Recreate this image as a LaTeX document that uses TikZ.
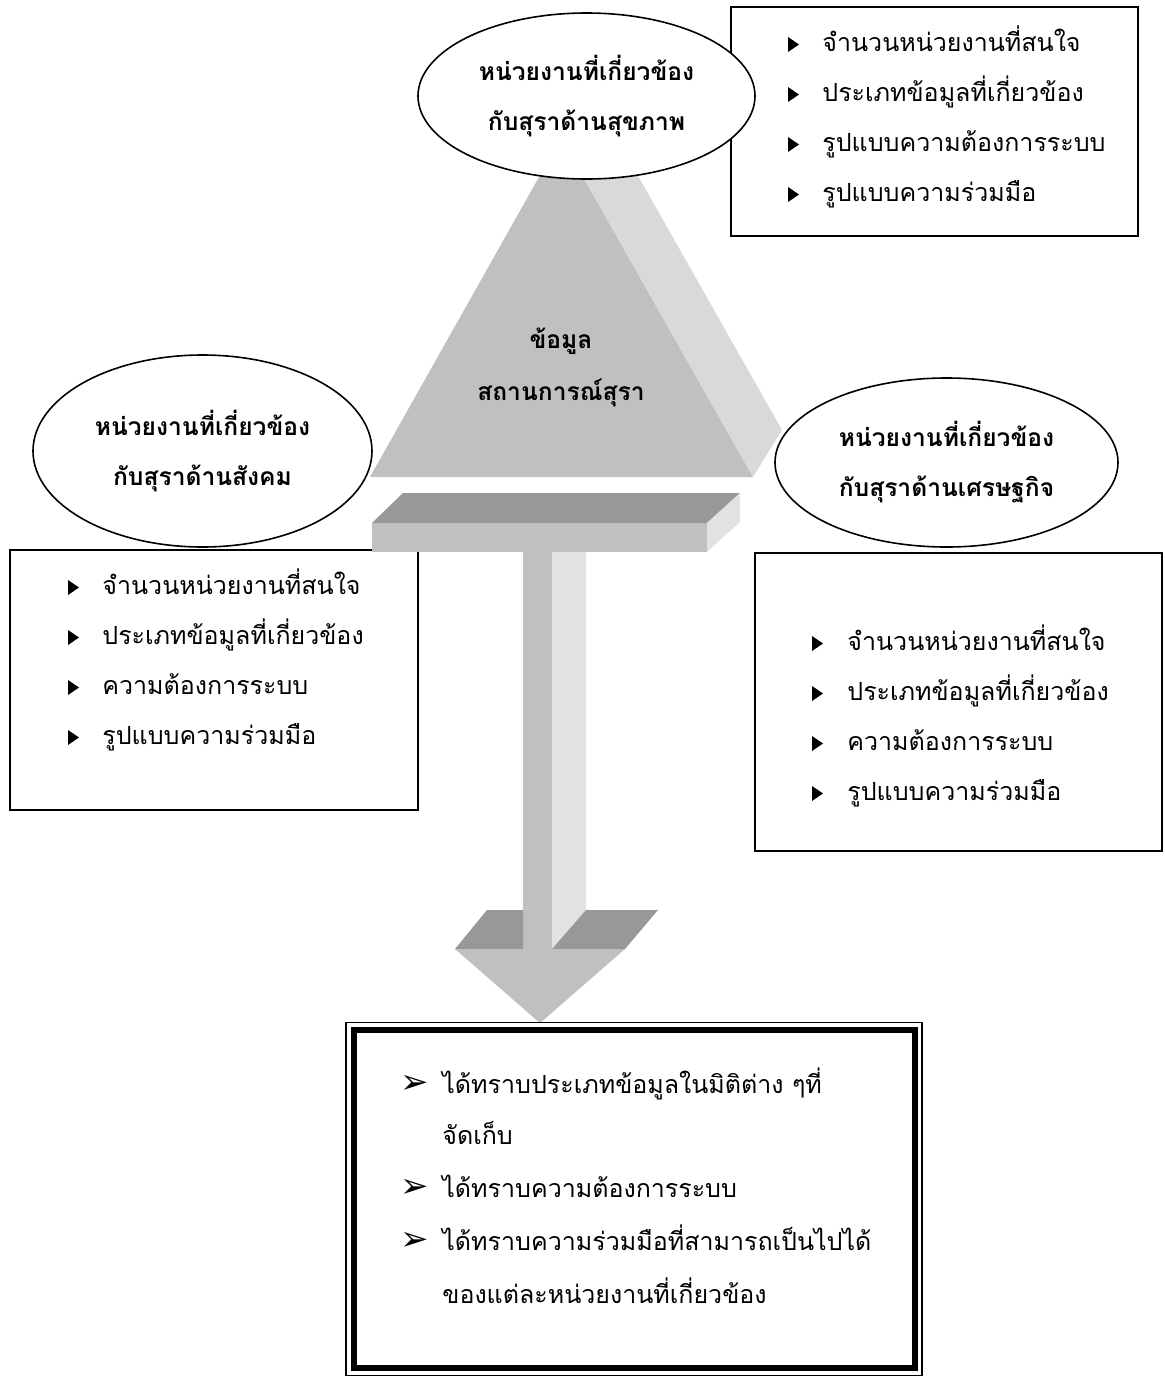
\documentclass[tikz,border=0pt]{standalone}
\usepackage{fontspec}
\newfontfamily\thaifont[Script=Thai]{Loma}
\newfontfamily\symfont{DejaVu Sans}
\usetikzlibrary{shapes.geometric}
\definecolor{facegray}{HTML}{C0C0C0}
\definecolor{sidegray}{HTML}{D9D9D9}
\definecolor{topgray}{HTML}{989898}
\definecolor{lightgray}{HTML}{E2E2E2}

\begin{document}
\begin{tikzpicture}[x=0.5pt,y=-0.5pt,
  every node/.style={inner sep=0pt,font=\thaifont\fontsize{12.5}{15}\selectfont},
  agency/.style={ellipse,draw,fill=white,line width=0.8pt,align=center,
    font=\thaifont\bfseries\fontsize{12.3}{25}\selectfont},
  listbox/.style={draw,line width=0.8pt},
  item/.style={anchor=base west},
  arrowmark/.style={anchor=base west,font=\symfont\fontsize{17}{17}\selectfont}]
\useasboundingbox (0,0) rectangle (1165,1377);
% Triangle of data, front and side
\fill[facegray] (370,477) -- (753,477) -- (561,138) -- cycle;
\fill[sidegray] (561,138) -- (590,91) -- (782,430) -- (753,477) -- cycle;
\node[font=\thaifont\bfseries\fontsize{12.3}{26}\selectfont,align=center] (datalabel) at (561,367) {ข้อมูล\\สถานการณ์สุรา};
% Boxes of points
\node[listbox,minimum width=203.5pt,minimum height=114.5pt] (healthbox) at (934.5,121.5) {};
\node[listbox,minimum width=204pt,minimum height=130pt] (socialbox) at (214,680) {};
\node[listbox,minimum width=203.5pt,minimum height=149pt] (economybox) at (958.5,702) {};
% T bar below the triangle
\fill[topgray] (372,523) -- (403,493) -- (740,493) -- (707,523) -- cycle;
\fill[facegray] (372,523) rectangle (707,552);
\fill[lightgray] (707,523) -- (740,493) -- (740,522) -- (707,552) -- cycle;
% Shaft
\fill[facegray] (523,552) rectangle (552,949);
\fill[lightgray] (552,552) -- (586,552) -- (586,910) -- (552,949) -- cycle;
% Arrow head
\fill[topgray] (455,949) -- (487,910) -- (523,910) -- (523,949) -- cycle;
\fill[topgray] (552,949) -- (586,910) -- (658,910) -- (625,949) -- cycle;
\fill[facegray] (455,949) -- (625,949) -- (540,1023) -- cycle;
% Agencies
\node[agency,minimum width=168.5pt,minimum height=83pt] (health) at (586.5,96) {หน่วยงานที่เกี่ยวข้อง\\กับสุราด้านสุขภาพ};
\node[agency,minimum width=169.5pt,minimum height=96pt] (social) at (202.5,451) {หน่วยงานที่เกี่ยวข้อง\\กับสุราด้านสังคม};
\node[agency,minimum width=171.5pt,minimum height=84.5pt] (economy) at (946.5,462.5) {หน่วยงานที่เกี่ยวข้อง\\กับสุราด้านเศรษฐกิจ};
% Points in each box
\foreach \txt [count=\i from 0] in {จำนวนหน่วยงานที่สนใจ, ประเภทข้อมูลที่เกี่ยวข้อง, รูปแบบความต้องการระบบ, รูปแบบความร่วมมือ}{
  \fill (788,{37+50*\i}) -- ++(11,7.5) -- ++(-11,7.5) -- cycle;
  \node[item] (healthitem\i) at (822,{51+50*\i}) {\txt};
}
\foreach \txt [count=\i from 0] in {จำนวนหน่วยงานที่สนใจ, ประเภทข้อมูลที่เกี่ยวข้อง, ความต้องการระบบ, รูปแบบความร่วมมือ}{
  \fill (68,{580+50*\i}) -- ++(11,7.5) -- ++(-11,7.5) -- cycle;
  \node[item] (socialitem\i) at (102,{594+50*\i}) {\txt};
}
\foreach \txt [count=\i from 0] in {จำนวนหน่วยงานที่สนใจ, ประเภทข้อมูลที่เกี่ยวข้อง, ความต้องการระบบ, รูปแบบความร่วมมือ}{
  \fill (812,{636+50*\i}) -- ++(11,7.5) -- ++(-11,7.5) -- cycle;
  \node[item] (economyitem\i) at (847,{650+50*\i}) {\txt};
}
% Result box, thin line outside a thick one
\node[listbox,line width=0.6pt,minimum width=288pt,minimum height=176.5pt] (resultbox) at (634,1199) {};
\node[draw,line width=3pt,minimum width=280.5pt,minimum height=169pt] (resultframe) at (634,1199) {};
\foreach \y [count=\i] in {1093,1197,1250}
  \node[arrowmark] (resultmark\i) at (400,\y) {➢};
\node[item] (result1) at (442,1093) {ได้ทราบประเภทข้อมูลในมิติต่าง ๆที่};
\node[item] (result1b) at (442,1144) {จัดเก็บ};
\node[item] (result2) at (442,1197) {ได้ทราบความต้องการระบบ};
\node[item] (result3) at (442,1250) {ได้ทราบความร่วมมือที่สามารถเป็นไปได้};
\node[item] (result3b) at (442,1303) {ของแต่ละหน่วยงานที่เกี่ยวข้อง};
\end{tikzpicture}
\end{document}
